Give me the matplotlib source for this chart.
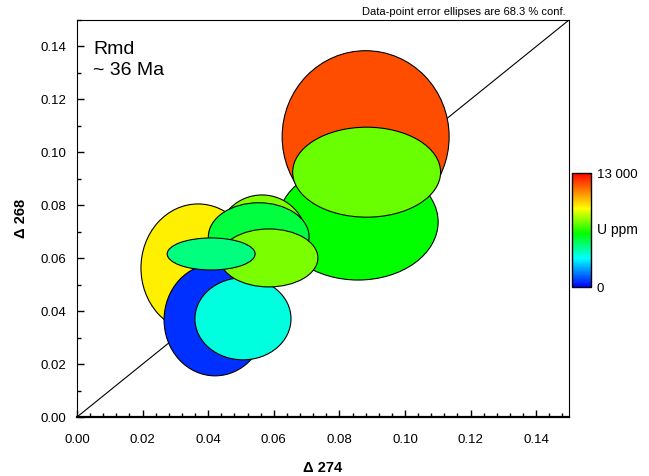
import matplotlib
matplotlib.use("Agg")
import matplotlib.pyplot as plt
import numpy as np
from matplotlib.patches import Ellipse
from matplotlib.colors import LinearSegmentedColormap, Normalize
from matplotlib.ticker import MultipleLocator
import matplotlib.colorbar as mcolorbar

plt.rcParams['font.family'] = ['Liberation Sans', 'DejaVu Sans']

### Data (drawing order: back to front) ###
x274 = [0.0880, 0.0857, 0.0883, 0.0369, 0.0421, 0.0506, 0.0564, 0.0554, 0.0585, 0.0409]
y268 = [0.1059, 0.0737, 0.0925, 0.0563, 0.0367, 0.0371, 0.0669, 0.0681, 0.0601, 0.0616]
ell_w = [0.0509, 0.0488, 0.0451, 0.0348, 0.0311, 0.0293, 0.0274, 0.0307, 0.0299, 0.0268]
ell_h = [0.0650, 0.0439, 0.0340, 0.0484, 0.0423, 0.0310, 0.0340, 0.0257, 0.0219, 0.0121]
u_ppm = [11740, 6100, 7300, 9200, 610, 3630, 7540, 5400, 7470, 4680]

u_min, u_max = 0, 13000
ticks = [0.00, 0.02, 0.04, 0.06, 0.08, 0.10, 0.12, 0.14]

cmap = LinearSegmentedColormap.from_list(
    'uppm', [(0.0, '#0000ff'), (0.25, '#00ffff'), (0.47, '#00ff00'),
             (0.69, '#ffff00'), (1.0, '#ff0000')])
norm = Normalize(u_min, u_max)

fig = plt.figure(figsize=(6.49, 4.76), dpi=100)
ax = fig.add_axes([77/649, 59/476, 492/649, 397/476])

# 1:1 line
ax.plot([0, 0.15], [0, 0.15], color='black', lw=0.8, zorder=1)

for i in range(len(x274)):
    e = Ellipse((x274[i], y268[i]), ell_w[i], ell_h[i],
                facecolor=cmap(norm(u_ppm[i])), edgecolor='black',
                lw=0.8, zorder=2 + i)
    ax.add_patch(e)

ax.set_xlim(0, 0.15)
ax.set_ylim(0, 0.15)
ax.set_xticks(ticks)
ax.set_yticks(ticks)
ax.set_xticklabels(['%.2f' % t for t in ticks])
ax.set_yticklabels(['%.2f' % t for t in ticks])
ax.xaxis.set_minor_locator(MultipleLocator(0.004))
ax.yaxis.set_minor_locator(MultipleLocator(0.01))
ax.tick_params(which='both', direction='in', labelsize=9.5, top=False, right=False)
ax.tick_params(which='major', length=5, width=1)
ax.tick_params(which='minor', length=3, width=1)
ax.tick_params(axis='x', pad=12)
ax.tick_params(axis='y', pad=8)
ax.spines['bottom'].set_linewidth(1.6)

ax.set_xlabel('Δ 274', fontsize=10.5, fontweight='bold', labelpad=11)
ax.set_ylabel('Δ 268', fontsize=10.5, fontweight='bold', labelpad=9)

ax.text(0.033, 0.948, 'Rmd\n~ 36 Ma', transform=ax.transAxes, fontsize=14,
        va='top', ha='left', linespacing=1.3)

fig.text(566/649, 1 - 12/476, 'Data-point error ellipses are 68.3 % conf.',
         fontsize=8, ha='right', va='center')

# colour bar
cax = fig.add_axes([572/649, (476-287)/476, 19/649, 114/476])
cb = mcolorbar.ColorbarBase(cax, cmap=cmap, norm=norm, orientation='vertical')
cb.set_ticks([u_min, u_max])
cb.set_ticklabels(['0', '13 000'])
cax.tick_params(length=0, labelsize=9.5, pad=4)
cb.outline.set_linewidth(1)
cax.text(1.3, 0.5, 'U ppm', transform=cax.transAxes, fontsize=10,
         va='center', ha='left')

fig.savefig('out.png', dpi=100)
